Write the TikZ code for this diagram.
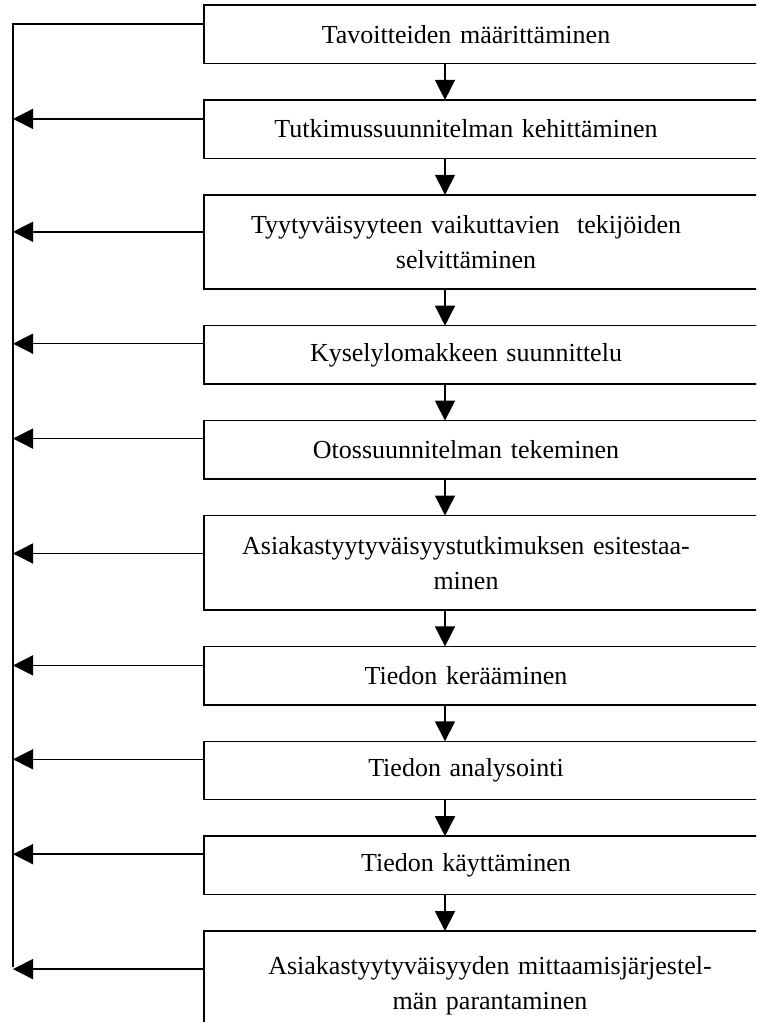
\documentclass[tikz,border=0pt]{standalone}
\usepackage{fontspec}
\setmainfont{Liberation Serif}
\usetikzlibrary{arrows.meta, positioning}
\tikzset{
  vaihe/.style={rectangle, text width=524pt, inner xsep=0pt,
    minimum height=58pt, align=center, font=\fontsize{26}{35}\selectfont},
  vaihe2/.style={vaihe, minimum height=94pt},
  reuna/.style={draw, line width=1.5pt},
  ar/.style={-{Triangle[length=20pt,width=20pt]}, line width=1.5pt},
  paluu/.style={line width=1.5pt},
}
\begin{document}
\begin{tikzpicture}[x=1pt, y=-1pt, node distance=36.5pt]
\useasboundingbox (0,0) rectangle (756,1022);
\clip (0,0) rectangle (756,1022);

% ---- vaiheet ----
\node[vaihe, anchor=north] (tav) at (466,5) {Tavoitteiden määrittäminen};
\node[vaihe, below=of tav] (tut) {Tutkimussuunnitelman kehittäminen};
\node[vaihe2, below=of tut] (tyy) {Tyytyväisyyteen vaikuttavien\ \ tekijöiden\\selvittäminen};
\node[vaihe, below=of tyy] (kys) {Kyselylomakkeen suunnittelu};
\node[vaihe, below=of kys] (oto) {Otossuunnitelman tekeminen};
\node[vaihe2, below=of oto] (esi) {Asiakastyytyväisyystutkimuksen esitestaa-\\minen};
\node[vaihe, below=of esi] (ker) {Tiedon kerääminen};
\node[vaihe, below=of ker] (ana) {Tiedon analysointi};
\node[vaihe, below=of ana] (kay) {Tiedon käyttäminen};
\node[vaihe2, text width=572pt, minimum height=108pt,
  below=of kay.south west, anchor=north west] (par)
  {Asiakastyytyväisyyden mittaamisjärjestel-\\män parantaminen};

% ---- laatikot ----
\foreach \b in {tav,tut,tyy,kys,oto,esi,ker,ana,kay,par}
  \draw[reuna] (\b.north west) rectangle ([xshift=100pt]\b.south east);

% ---- eteenpäin ----
\foreach \a/\b in {tav/tut,tut/tyy,tyy/kys,kys/oto,oto/esi,esi/ker,ker/ana,ana/kay,kay/par}
  \draw[ar] ([xshift=-21pt]\a.south) -- ([xshift=-21pt]\a.south |- \b.north);

% ---- palaute ----
\coordinate (yla) at (13,24);
\coordinate (ala) at (13,967);
\draw[paluu] ([yshift=-19pt]tav.north west) -- (yla) -- (ala);
\foreach \b/\d in {tut/19,tyy/37,kys/18,oto/18,esi/38,ker/19,ana/18,kay/18,par/38}
  \draw[ar] ([yshift=-\d pt]\b.north west) -- ([yshift=-\d pt]\b.north west -| yla);

\end{tikzpicture}
\end{document}
